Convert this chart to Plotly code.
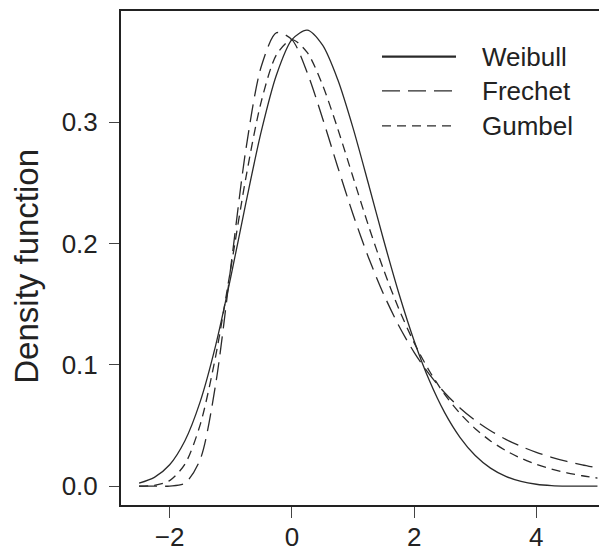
import plotly.graph_objects as go

# x grid
x_vals = [-2.5, -2.25, -2.0, -1.75, -1.5, -1.25, -1.0, -0.75, -0.5, -0.25, 0.0,
          0.25, 0.5, 0.75, 1.0, 1.25, 1.5, 1.75, 2.0, 2.25, 2.5, 2.75, 3.0,
          3.25, 3.5, 3.75, 4.0, 4.25, 4.5, 4.75, 5.0]

weibull = [0.0025, 0.0073, 0.0177, 0.0375, 0.0697, 0.1154, 0.1722, 0.2340, 0.2925,
           0.3392, 0.3679, 0.3757, 0.3635, 0.3350, 0.2952, 0.2496, 0.2030, 0.1590,
           0.1199, 0.0870, 0.0606, 0.0403, 0.0253, 0.0149, 0.0081, 0.0039, 0.0016,
           0.0005, 0.0001, 0.0000, 0.0000]

frechet = [0.0000, 0.0000, 0.0001, 0.0024, 0.0221, 0.0831, 0.1803, 0.2784, 0.3460,
           0.3736, 0.3679, 0.3409, 0.3034, 0.2630, 0.2241, 0.1889, 0.1583, 0.1322,
           0.1103, 0.0921, 0.0770, 0.0645, 0.0542, 0.0457, 0.0386, 0.0328, 0.0279,
           0.0238, 0.0204, 0.0176, 0.0151]

gumbel = [0.0001, 0.0007, 0.0046, 0.0182, 0.0507, 0.1064, 0.1794, 0.2549, 0.3171,
          0.3556, 0.3679, 0.3574, 0.3307, 0.2945, 0.2547, 0.2151, 0.1785, 0.1461,
          0.1182, 0.0949, 0.0756, 0.0600, 0.0474, 0.0373, 0.0293, 0.0230, 0.0180,
          0.0141, 0.0110, 0.0086, 0.0067]

series_names = ["Weibull", "Frechet", "Gumbel"]
x_ticks = [-2, 0, 2, 4]
y_ticks = [0.0, 0.1, 0.2, 0.3]

line_col = "#2a2a2a"
dashes = {"Weibull": "solid", "Frechet": "18px,8px", "Gumbel": "9px,6px"}
data_map = {"Weibull": weibull, "Frechet": frechet, "Gumbel": gumbel}

W, H = 607, 552
OFF = 8  # page body margin in the browser
# plot area in screen pixels: left 121, top 11, bottom 505.5, right beyond window
L = 121 - OFF
T = 11 - OFF
B = H - (505.5 - OFF)
R = 0
plot_w = W - L - R
plot_h = H - T - B

fig = go.Figure()
for name in series_names:
    fig.add_trace(go.Scatter(
        x=x_vals, y=data_map[name], mode="lines", name=name,
        line=dict(color=line_col, width=1.3, dash=dashes[name], shape="spline", smoothing=0.8),
        showlegend=False,
    ))

font_family = "Liberation Sans, Arial, Helvetica, sans-serif"

def sx(px):
    return (px - OFF - L) / plot_w

def sy(py):
    return (H - B - (py - OFF)) / plot_h

# manual legend (R style)
legend_y = [56.7, 91.0, 126.0]
for name, yy in zip(series_names, legend_y):
    fig.add_shape(type="line", xref="paper", yref="paper",
                  x0=sx(382), x1=sx(456), y0=sy(yy), y1=sy(yy),
                  line=dict(color=line_col, width=2.2 if name == "Weibull" else 1.3, dash=dashes[name]))
    fig.add_annotation(xref="paper", yref="paper",
                       x=sx(480), y=sy(yy),
                       text=name, showarrow=False, xanchor="left", yanchor="middle",
                       font=dict(family=font_family, size=26, color="#222"))

# y axis title
fig.add_annotation(xref="paper", yref="paper",
                   x=sx(27), y=sy(267),
                   text="Density function", showarrow=False, textangle=-90,
                   xanchor="center", yanchor="middle",
                   font=dict(family=font_family, size=33, color="#222"))

fig.update_layout(
    width=W, height=H,
    margin=dict(l=L, r=R, t=T, b=B, autoexpand=False),
    paper_bgcolor="white", plot_bgcolor="white",
    font=dict(family=font_family, color="#222"),
    showlegend=False,
)
fig.update_xaxes(
    range=[-2.796, 5.287], tickvals=x_ticks,
    ticktext=[("\u2212" + str(-v)) if v < 0 else str(v) for v in x_ticks],
    showgrid=False, zeroline=False, automargin=False,
    showline=True, linecolor="#222", linewidth=2, mirror=True,
    ticks="outside", ticklen=11, tickwidth=1.3, tickcolor="#444",
    tickfont=dict(size=26, color="#222", family=font_family),
    ticklabelstandoff=-3,
)
fig.update_yaxes(
    range=[-0.0155, 0.3915], tickvals=y_ticks, ticktext=["%.1f" % v for v in y_ticks],
    showgrid=False, zeroline=False, automargin=False,
    showline=True, linecolor="#222", linewidth=2,
    ticks="outside", ticklen=10, tickwidth=1.3, tickcolor="#444",
    tickfont=dict(size=26, color="#222", family=font_family),
    ticklabelstandoff=6,
)

fig.write_html("out.html")
